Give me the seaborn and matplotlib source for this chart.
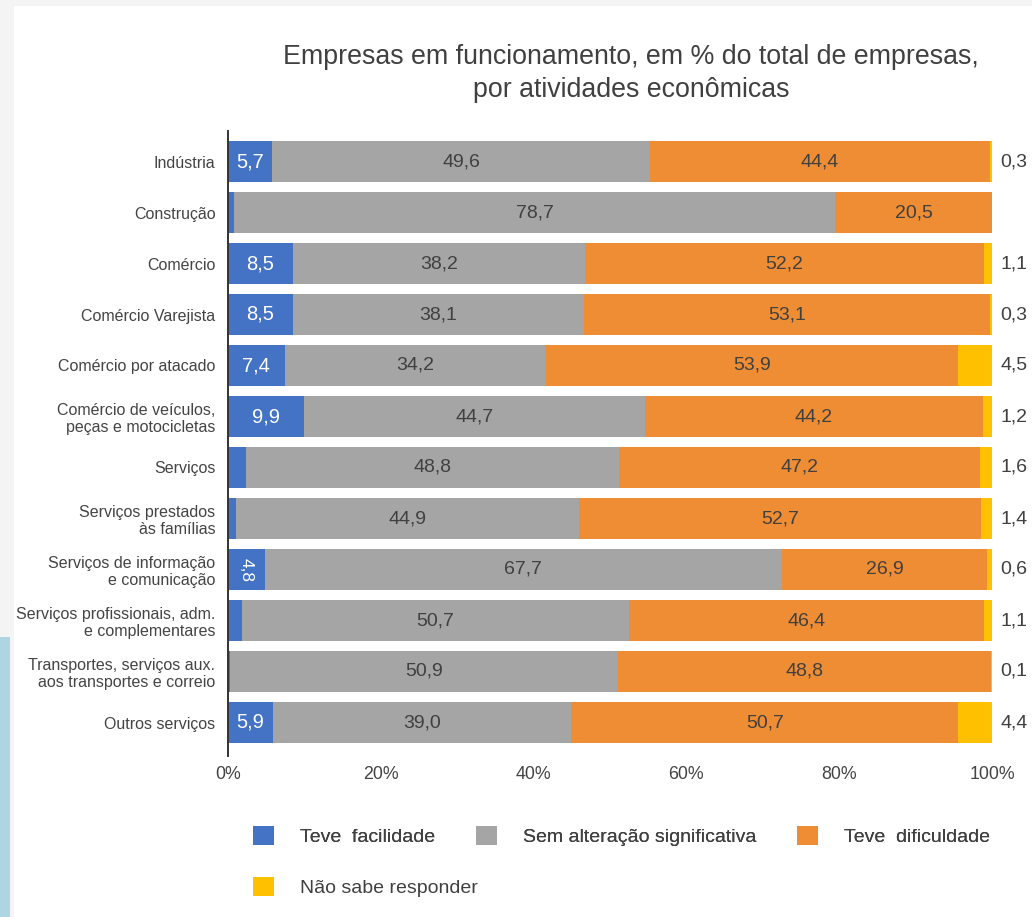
import matplotlib
matplotlib.use("Agg")
import matplotlib.pyplot as plt
from matplotlib.patches import Rectangle, Patch
import seaborn as sns
import pandas as pd
import numpy as np

categories = [
    "Indústria",
    "Construção",
    "Comércio",
    "Comércio Varejista",
    "Comércio por atacado",
    "Comércio de veículos,\npeças e motocicletas",
    "Serviços",
    "Serviços prestados\nàs famílias",
    "Serviços de informação\ne comunicação",
    "Serviços profissionais, adm.\ne complementares",
    "Transportes, serviços aux.\naos transportes e correio",
    "Outros serviços",
]
teve_facilidade = [5.7, 0.8, 8.5, 8.5, 7.4, 9.9, 2.4, 1.0, 4.8, 1.8, 0.2, 5.9]
sem_alteracao = [49.6, 78.7, 38.2, 38.1, 34.2, 44.7, 48.8, 44.9, 67.7, 50.7, 50.9, 39.0]
teve_dificuldade = [44.4, 20.5, 52.2, 53.1, 53.9, 44.2, 47.2, 52.7, 26.9, 46.4, 48.8, 50.7]
nao_sabe = [0.3, 0.0, 1.1, 0.3, 4.5, 1.2, 1.6, 1.4, 0.6, 1.1, 0.1, 4.4]

series_names = ["Teve  facilidade", "Sem alteração significativa",
                "Teve  dificuldade", "Não sabe responder"]
colors = ["#4472C4", "#A5A5A5", "#EE8D33", "#FFC000"]
tick_labels = ["0%", "20%", "40%", "60%", "80%", "100%"]

sns.set_theme(style="white")
plt.rcParams["font.family"] = ["Liberation Sans", "DejaVu Sans"]

df = pd.DataFrame({
    "cat": categories,
    "s0": teve_facilidade,
    "s1": sem_alteracao,
    "s2": teve_dificuldade,
    "s3": nao_sabe,
})
vals = df[["s0", "s1", "s2", "s3"]].to_numpy()
cum = np.cumsum(vals, axis=1)
starts = cum - vals
for i in range(4):
    df[f"c{i}"] = cum[:, i]

fig = plt.figure(figsize=(10.32, 9.17), dpi=100, facecolor="#F4F4F4")
W, H = 1032, 917
# white panel and light-blue strip
fig.patches.append(Rectangle((14 / W, 0), 1 - 14 / W, 1 - 6 / H, transform=fig.transFigure,
                             facecolor="white", edgecolor="none", zorder=-10))
fig.patches.append(Rectangle((0, 0), 10 / W, 1 - 637 / H, transform=fig.transFigure,
                             facecolor="#AED6E2", edgecolor="none", zorder=-10))

ax = fig.add_axes([228 / W, 1 - 748 / H, 764 / W, 612 / H])
ax.set_facecolor("none")

for i in [3, 2, 1, 0]:
    sns.barplot(data=df, x=f"c{i}", y="cat", orient="h", color=colors[i],
                width=0.8, ax=ax, saturation=1, edgecolor="none", linewidth=0)

ax.set_xlim(0, 100)
ax.set_ylim(len(categories) - 0.5, -0.5)
ax.set_xticks([0, 20, 40, 60, 80, 100])
ax.set_xticklabels(tick_labels)
ax.set_xlabel("")
ax.set_ylabel("")
ax.tick_params(axis="x", length=0, pad=13, labelsize=12.8, labelcolor="#444444")
ax.tick_params(axis="y", length=0, pad=9, labelsize=11.5, labelcolor="#444444")
for lbl in ax.get_yticklabels():
    lbl.set_horizontalalignment("right")
    lbl.set_multialignment("right")
for s in ["top", "right", "bottom"]:
    ax.spines[s].set_visible(False)
ax.spines["left"].set_color("#333333")
ax.spines["left"].set_linewidth(1.4)
ax.spines["left"].set_bounds(-0.6, len(categories) - 0.35)
ax.spines["left"].set_zorder(5)

def fmt(v):
    return f"{v:.1f}".replace(".", ",")

for r in range(len(categories)):
    v = vals[r, 0]
    if v >= 4:
        x = starts[r, 0] + v / 2
        if v >= 5:
            ax.text(x, r, fmt(v), ha="center", va="center", color="white", fontsize=14.5)
        else:
            ax.text(x, r, fmt(v), ha="center", va="center", color="white", fontsize=12.5,
                    rotation=-90)
    for i in [1, 2]:
        v = vals[r, i]
        ax.text(starts[r, i] + v / 2, r, fmt(v), ha="center", va="center",
                color="#404040", fontsize=14)
    v = vals[r, 3]
    if v > 0:
        ax.annotate(fmt(v), xy=(cum[r, 3], r), xytext=(6, 0), textcoords="offset points",
                    ha="left", va="center", color="#404040", fontsize=14)

fig.text(631 / W, 1 - 57 / H, "Empresas em funcionamento, em % do total de empresas,",
         ha="center", va="center", fontsize=19.3, color="#404040")
fig.text(631 / W, 1 - 90 / H, "por atividades econômicas",
         ha="center", va="center", fontsize=19.3, color="#404040")

handles = [Patch(facecolor=c, edgecolor="none") for c in colors]
leg_kw = dict(frameon=False, fontsize=14, handlelength=1.08, handleheight=1.08,
              handletextpad=1.34, columnspacing=2.1, borderpad=0, borderaxespad=0,
              labelcolor="#404040", loc="center left")
leg1 = fig.legend(handles[:3], series_names[:3], ncol=3,
                  bbox_to_anchor=(253 / W, 1 - 836 / H), **leg_kw)
fig.add_artist(leg1)
leg2 = fig.legend(handles[3:], series_names[3:], ncol=1,
                  bbox_to_anchor=(253 / W, 1 - 887 / H), **leg_kw)

fig.savefig("out.png", dpi=100, facecolor=fig.get_facecolor())
